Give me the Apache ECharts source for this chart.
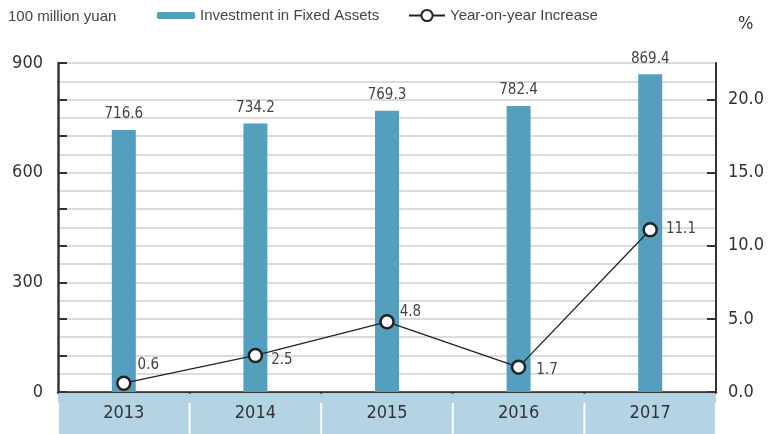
<!DOCTYPE html>
<html>
<head>
<meta charset="utf-8">
<script src="https://cdn.jsdelivr.net/npm/echarts@6/dist/echarts.min.js"></script>
<style>
  html, body { margin: 0; padding: 0; background: #fff; }
  #main { width: 768px; height: 434px; }
</style>
</head>
<body>
<div id="main"></div>
<script>
// data
var years = ['2013', '2014', '2015', '2016', '2017'];
var investment = [716.6, 734.2, 769.3, 782.4, 869.4];
var increase = [0.6, 2.5, 4.8, 1.7, 11.1];

var narrow = "'DejaVu Sans Condensed', 'Liberation Sans Narrow', sans-serif";
var plain = "'Liberation Sans', Helvetica, Arial, sans-serif";
var dark = '#333';

// label offsets for the line points
var lineData = increase.map(function (v, i) {
    var lbl = { position: 'right', offset: [0, 0] };
    if (i === 0) lbl.offset = [-2, -18];
    if (i === 1) lbl.offset = [0, 5];
    if (i === 2) lbl.offset = [-3, -10];
    if (i === 3) lbl.offset = [2, 3];
    if (i === 4) lbl.offset = [0, -1];
    return { value: v, label: lbl };
});

var myChart = echarts.init(document.getElementById('main'));

var option = {
    animation: false,
    backgroundColor: '#fff',
    title: {
        text: '100 million yuan',
        left: 3,
        top: 4,
        textStyle: { fontFamily: plain, fontSize: 15, fontWeight: 'normal', color: '#444' }
    },
    legend: [{
        left: 152,
        top: 3,
        itemWidth: 38,
        itemHeight: 7,
        itemGap: 5,
        data: ['Investment in Fixed Assets'],
        textStyle: { fontFamily: plain, fontSize: 15, color: '#444' }
    }, {
        left: 403,
        top: 3,
        itemWidth: 36,
        itemHeight: 14,
        itemGap: 5,
        data: ['Year-on-year Increase'],
        textStyle: { fontFamily: plain, fontSize: 15, color: '#444' }
    }],
    graphic: [{
        type: 'rect',
        left: 58,
        bottom: 31,
        shape: { width: 658, height: 11 },
        style: { fill: '#b4d4e3' },
        z: 0
    }],
    grid: { left: 58, right: 52, top: 63, bottom: 42 },
    xAxis: {
        type: 'category',
        data: years,
        axisLine: { lineStyle: { color: dark, width: 2.5 } },
        axisTick: { show: false },
        axisLabel: {
            margin: 1,
            width: 129.6,
            height: 41,
            lineHeight: 41,
            align: 'center',
            backgroundColor: '#b4d4e3',
            fontFamily: narrow,
            fontSize: 18,
            color: dark
        }
    },
    yAxis: [{
        type: 'value',
        min: 0,
        max: 900,
        interval: 100,
        axisLine: { show: true, lineStyle: { color: dark, width: 2.5 } },
        axisTick: { show: true, inside: true, length: 9, lineStyle: { color: dark, width: 2 } },
        axisLabel: {
            margin: 15,
            fontFamily: narrow,
            fontSize: 18,
            color: dark,
            padding: [5, 0, 0, 0],
            formatter: function (v) { return v % 300 === 0 ? v : ''; }
        },
        splitLine: { show: true, lineStyle: { color: '#cfcfcf', width: 1.5 } },
        minorTick: { show: false, splitNumber: 2 },
        minorSplitLine: { show: true, lineStyle: { color: '#cfcfcf', width: 1.5 } }
    }, {
        type: 'value',
        min: 0,
        max: 22.5,
        interval: 5,
        name: '%',
        nameLocation: 'end',
        nameGap: 30,
        nameTextStyle: { fontFamily: narrow, fontSize: 18, color: dark, align: 'left', padding: [0, 0, 0, 22] },
        axisLine: { show: true, lineStyle: { color: dark, width: 2 } },
        axisTick: { show: true, inside: true, length: 9, lineStyle: { color: dark, width: 2 } },
        axisLabel: {
            margin: 12,
            fontFamily: narrow,
            fontSize: 18,
            color: dark,
            padding: [5, 0, 0, 0],
            showMaxLabel: false,
            formatter: function (v) { return v > 20 ? '' : v.toFixed(1); }
        },
        splitLine: { show: false }
    }],
    series: [{
        name: 'Investment in Fixed Assets',
        type: 'bar',
        data: investment,
        barWidth: 24,
        itemStyle: { color: '#559fbe' },
        label: {
            show: true,
            position: 'top',
            distance: 8,
            fontFamily: narrow,
            fontSize: 15,
            color: '#444',
            formatter: function (p) { return p.value.toFixed(1); }
        }
    }, {
        name: 'Year-on-year Increase',
        type: 'line',
        yAxisIndex: 1,
        data: lineData,
        symbol: 'circle',
        symbolSize: 13,
        lineStyle: { color: '#222', width: 1.3 },
        itemStyle: { color: '#fff', borderColor: '#222', borderWidth: 2.5 },
        label: {
            show: true,
            distance: 8,
            fontFamily: narrow,
            fontSize: 15,
            color: '#444',
            formatter: function (p) { return p.value.toFixed(1); }
        },
        z: 5
    }]
};

myChart.setOption(option);
</script>
</body>
</html>
